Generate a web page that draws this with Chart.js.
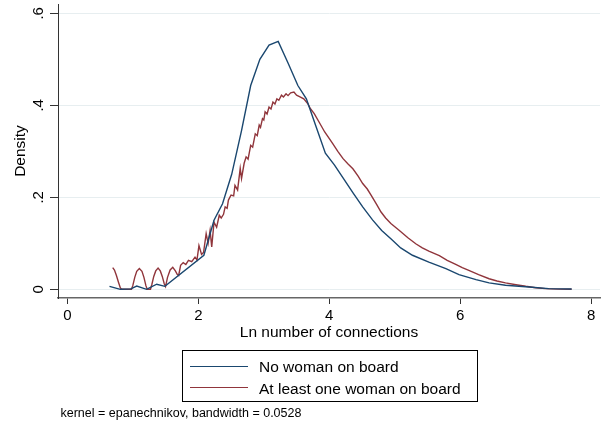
<!DOCTYPE html>
<html>
<head>
<meta charset="utf-8">
<script src="https://cdn.jsdelivr.net/npm/chart.js@4.4.1/dist/chart.umd.min.js"></script>
<style>
  html, body { margin: 0; padding: 0; background: #fff; }
  #wrap { position: relative; width: 605px; height: 424px; overflow: hidden; font-family: "Liberation Sans", Arial, Helvetica, sans-serif; color: #000; }
  #c { position: absolute; left: 0; top: 0; }
  #legend { position: absolute; left: 182px; top: 350px; width: 294px; height: 50px; border: 1px solid #000; box-sizing: content-box; }
  .lg-line { position: absolute; left: 7px; width: 58px; height: 0; border-top: 1.4px solid; }
  .lg-text { position: absolute; left: 76px; font-size: 15.5px; line-height: 1; white-space: nowrap; }
  #note { position: absolute; left: 60.5px; top: 406.8px; font-size: 12.5px; line-height: 1; white-space: nowrap; }
</style>
</head>
<body>
<div id="wrap">
  <canvas id="c" width="605" height="424"></canvas>
  <div id="legend"></div>
  <div id="note"></div>
</div>
<script>
// ---- data ----
const seriesNames = ['No woman on board', 'At least one woman on board'];
const seriesColors = ['#1a476f', '#90353b'];

const noWomanX = [0.644, 0.81, 0.97, 1.06, 1.21, 1.365, 1.49, 2.085, 2.24, 2.37, 2.51, 2.66, 2.80, 2.94, 3.08, 3.22, 3.37, 3.52, 3.65, 3.80, 3.94, 4.08, 4.22, 4.37, 4.51, 4.66, 4.80, 4.94, 5.09, 5.27, 5.52, 5.78, 5.98, 6.24, 6.44, 6.69, 7.05, 7.35, 7.70];
const noWomanY = [0.0065, 0.0, 0.001, 0.007, 0.0, 0.011, 0.0065, 0.074, 0.150, 0.186, 0.250, 0.345, 0.443, 0.500, 0.531, 0.539, 0.492, 0.443, 0.414, 0.353, 0.296, 0.270, 0.240, 0.208, 0.179, 0.151, 0.128, 0.110, 0.090, 0.074, 0.059, 0.045, 0.032, 0.021, 0.014, 0.0087, 0.005, 0.0015, 0.0007];

const womanX = [0.693, 0.72, 0.75, 0.78, 0.81, 0.83, 0.98, 1.00, 1.03, 1.06, 1.10, 1.14, 1.17, 1.20, 1.22, 1.27, 1.29, 1.32, 1.35, 1.386, 1.42, 1.45, 1.48, 1.50, 1.53, 1.57, 1.61, 1.65, 1.68, 1.70, 1.73, 1.77, 1.81, 1.85, 1.90, 1.95, 1.98, 2.01, 2.05, 2.08, 2.12, 2.15, 2.18, 2.205, 2.24, 2.28, 2.32, 2.35, 2.385, 2.41, 2.44, 2.46, 2.50, 2.54, 2.56, 2.60, 2.64, 2.66, 2.70, 2.73, 2.76, 2.80, 2.83, 2.87, 2.90, 2.93, 2.95, 2.98, 3.00, 3.02, 3.05, 3.08, 3.11, 3.14, 3.17, 3.20, 3.23, 3.27, 3.30, 3.34, 3.37, 3.41, 3.46, 3.50, 3.56, 3.61, 3.67, 3.71, 3.77, 3.85, 3.93, 4.05, 4.13, 4.21, 4.29, 4.36, 4.44, 4.51, 4.58, 4.64, 4.72, 4.79, 4.86, 4.94, 5.07, 5.20, 5.32, 5.42, 5.52, 5.60, 5.68, 5.80, 5.93, 6.03, 6.13, 6.28, 6.44, 6.56, 6.69, 6.85, 7.00, 7.15, 7.30, 7.50, 7.70];
const womanY = [0.047, 0.042, 0.030, 0.016, 0.003, 0.0, 0.0, 0.008, 0.026, 0.039, 0.045, 0.039, 0.026, 0.008, 0.0, 0.0, 0.010, 0.028, 0.040, 0.046, 0.040, 0.028, 0.012, 0.006, 0.026, 0.042, 0.048, 0.040, 0.032, 0.030, 0.052, 0.058, 0.054, 0.063, 0.060, 0.070, 0.064, 0.095, 0.076, 0.080, 0.121, 0.100, 0.128, 0.092, 0.146, 0.135, 0.161, 0.155, 0.163, 0.179, 0.176, 0.194, 0.205, 0.203, 0.226, 0.216, 0.263, 0.241, 0.274, 0.288, 0.283, 0.313, 0.309, 0.338, 0.334, 0.357, 0.352, 0.371, 0.368, 0.386, 0.381, 0.396, 0.392, 0.407, 0.403, 0.414, 0.411, 0.422, 0.418, 0.425, 0.421, 0.427, 0.429, 0.422, 0.418, 0.414, 0.404, 0.393, 0.382, 0.362, 0.342, 0.317, 0.300, 0.284, 0.272, 0.262, 0.246, 0.230, 0.218, 0.204, 0.185, 0.168, 0.155, 0.143, 0.128, 0.112, 0.099, 0.090, 0.083, 0.078, 0.073, 0.063, 0.054, 0.047, 0.041, 0.032, 0.023, 0.018, 0.014, 0.010, 0.0065, 0.0035, 0.0015, 0.0005, 0.0];

const xTicks = [0, 2, 4, 6, 8];
const yTicks = [0, 0.2, 0.4, 0.6];
const yTickLabels = ['0', '.2', '.4', '.6'];
const xTitle = 'Ln number of connections';
const yTitle = 'Density';
const noteText = 'kernel = epanechnikov, bandwidth = 0.0528';

// ---- chart ----
const FONT = '"Liberation Sans", Arial, Helvetica, sans-serif';
Chart.defaults.font.family = FONT;
Chart.defaults.color = '#000';

const toPts = (xs, ys) => xs.map((x, i) => ({ x: x, y: ys[i] }));

new Chart(document.getElementById('c'), {
  type: 'line',
  data: {
    datasets: [
      { label: seriesNames[0], data: toPts(noWomanX, noWomanY), borderColor: seriesColors[0], borderWidth: 1.4, pointRadius: 0, fill: false, tension: 0 },
      { label: seriesNames[1], data: toPts(womanX, womanY), borderColor: seriesColors[1], borderWidth: 1.4, pointRadius: 0, fill: false, tension: 0 }
    ]
  },
  options: {
    responsive: false,
    animation: false,
    devicePixelRatio: 1,
    layout: { padding: { left: 0, top: 4, right: 5, bottom: 82 } },
    plugins: { legend: { display: false }, tooltip: { enabled: false } },
    scales: {
      x: {
        type: 'linear',
        min: -0.142, max: 8.133,
        afterBuildTicks: s => { s.ticks = xTicks.map(v => ({ value: v })); },
        afterFit: s => { s.height = 44; s.paddingLeft = 0; s.paddingRight = 0; },
        ticks: { font: { size: 15 }, padding: 2.5, maxRotation: 0, autoSkip: false, callback: v => String(v) },
        grid: { drawOnChartArea: false, drawTicks: true, tickLength: 6, tickColor: '#333', tickWidth: 1 },
        border: { display: true, color: '#666', width: 1.5 },
        title: { display: true, text: xTitle, font: { size: 15.5 }, padding: { top: 0, bottom: 0 } }
      },
      y: {
        type: 'linear',
        min: -0.0189, max: 0.6202,
        afterBuildTicks: s => { s.ticks = yTicks.map(v => ({ value: v })); },
        afterFit: s => { s.width = 58; s.paddingTop = 0; s.paddingBottom = 0; },
        ticks: { font: { size: 15 }, padding: 5, minRotation: 90, maxRotation: 90, crossAlign: 'center', autoSkip: false, callback: (v, i) => yTickLabels[i] },
        grid: { color: '#e7eef0', lineWidth: 1, drawTicks: true, tickLength: 8, tickColor: '#333', tickWidth: 1 },
        border: { display: true, color: '#333', width: 1 },
        title: { display: true, text: yTitle, font: { size: 15.5 }, padding: { top: 11.5, bottom: 0 } }
      }
    }
  }
});

// ---- legend box and note (real text) ----
const legend = document.getElementById('legend');
const rowLineY = [14.7, 36.2];
const rowTextTop = [8.0, 29.5];
seriesNames.forEach((name, i) => {
  const ln = document.createElement('div');
  ln.className = 'lg-line';
  ln.style.top = rowLineY[i] + 'px';
  ln.style.borderTopColor = seriesColors[i];
  legend.appendChild(ln);
  const tx = document.createElement('div');
  tx.className = 'lg-text';
  tx.style.top = rowTextTop[i] + 'px';
  tx.textContent = name;
  legend.appendChild(tx);
});
document.getElementById('note').textContent = noteText;
</script>
</body>
</html>
